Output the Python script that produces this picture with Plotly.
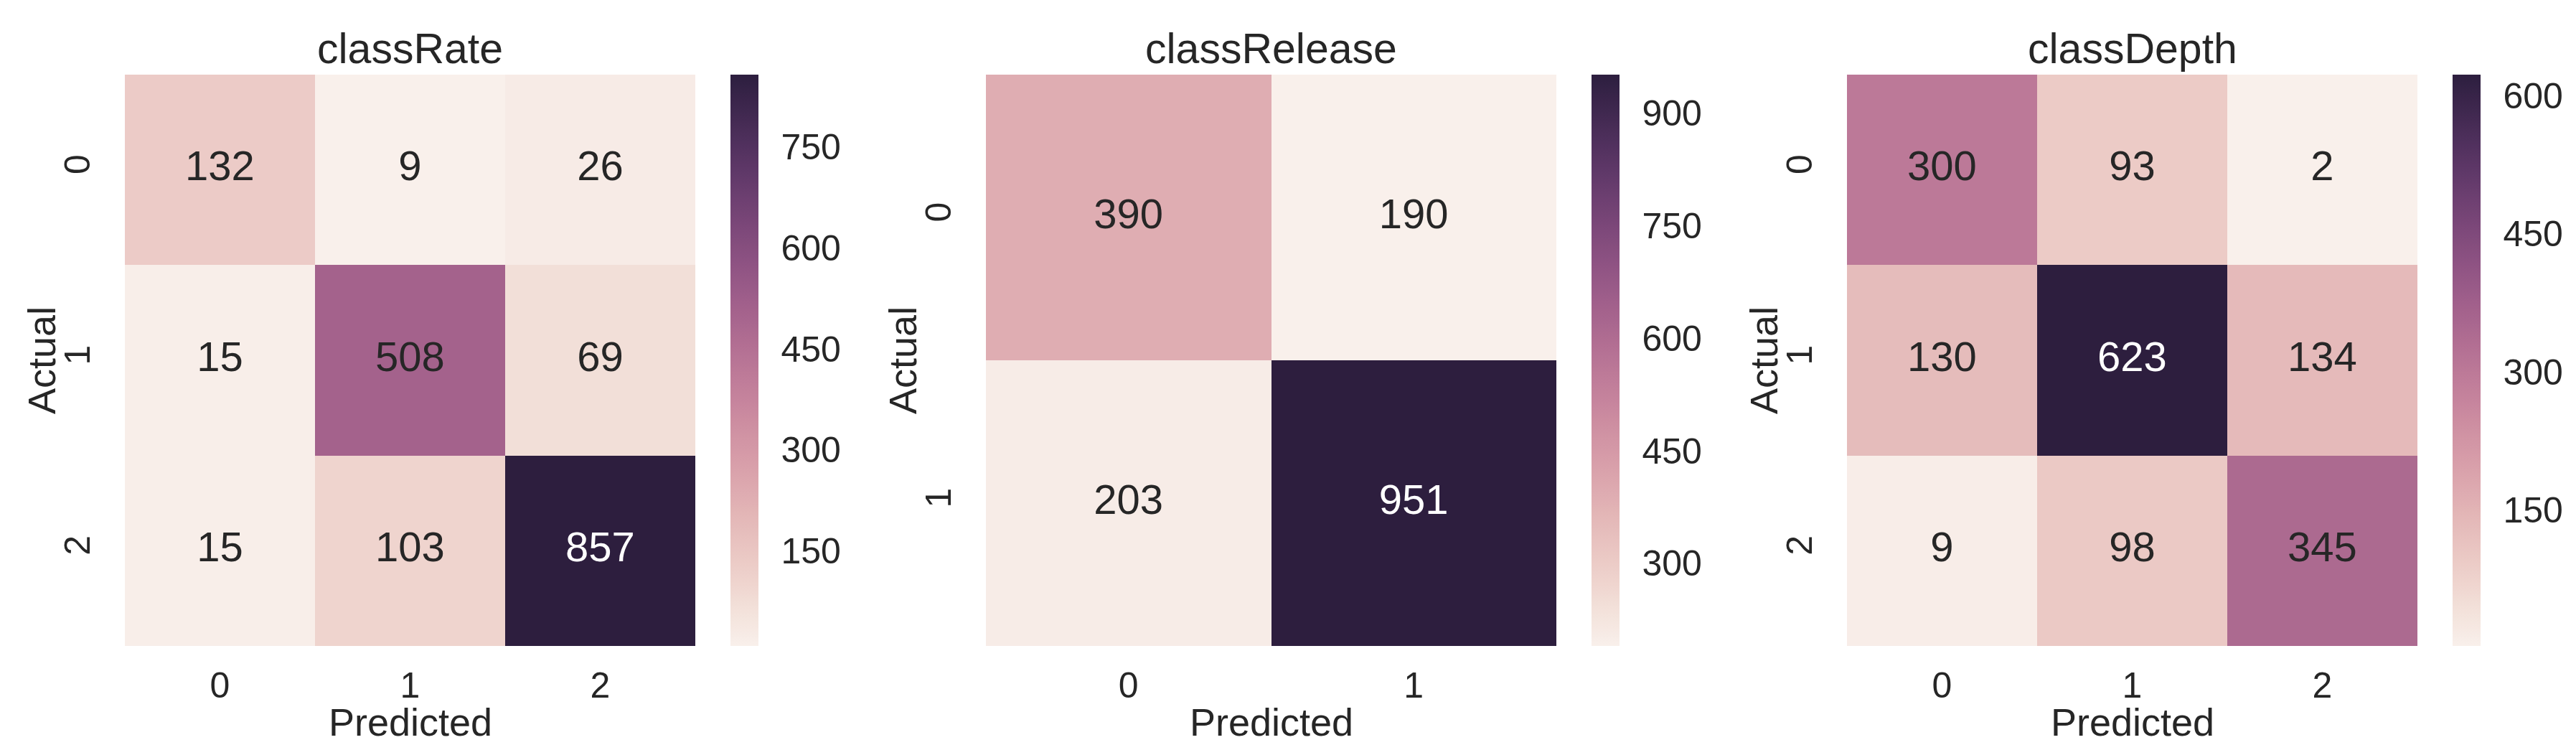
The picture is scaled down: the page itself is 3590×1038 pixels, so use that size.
import colorsys

import numpy as np
import plotly.graph_objects as go

# Confusion matrices (rows = actual, cols = predicted).
titles = ["classRate", "classRelease", "classDepth"]
rate_labels = ["0", "1", "2"]
release_labels = ["0", "1"]
depth_labels = ["0", "1", "2"]

rate_cm = [[132, 9, 26], [15, 508, 69], [15, 103, 857]]
release_cm = [[390, 190], [203, 951]]
depth_cm = [[300, 93, 2], [130, 623, 134], [9, 98, 345]]

rate_cbar_ticks = [150, 300, 450, 600, 750]
release_cbar_ticks = [300, 450, 600, 750, 900]
depth_cbar_ticks = [150, 300, 450, 600]

W, H = 3590, 1038
FONT = "Liberation Sans, Arial, sans-serif"
INK = "#262626"

# pixel layout of each panel
LEFT0, STEP, HM_W = 166, 1200, 795
HM_TOP, HM_BOT = 96, 892
CB_OFF, CB_W = 844, 39


def cubehelix(t, start=0.0, rot=0.4, gamma=1.0, hue=0.8, light=0.95, dark=0.15):
    """seaborn cubehelix_palette(light=.95) sampled at t in [0, 1]."""
    x = light + (dark - light) * np.asarray(t, float)
    xg = x ** gamma
    a = hue * xg * (1 - xg) / 2
    phi = 2 * np.pi * (start / 3 + rot * x)
    c, s = np.cos(phi), np.sin(phi)
    r = xg + a * (-0.14861 * c + 1.78277 * s)
    g = xg + a * (-0.29227 * c - 0.90649 * s)
    b = xg + a * (1.97294 * c)
    return np.clip(np.stack([r, g, b], -1), 0, 1)


stops = np.linspace(0, 1, 64)
COLORSCALE = [
    [float(t), "rgb(%d,%d,%d)" % tuple(np.round(cubehelix(t) * 255).astype(int))]
    for t in stops
]


def text_color(v, vmin, vmax):
    # old seaborn rule: dark text on light cells, white on dark ones
    rgb = cubehelix((v - vmin) / (vmax - vmin))
    _, l, _ = colorsys.rgb_to_hls(*rgb)
    return INK if l > 0.5 else "white"


def px_x(p):
    return p / W


def px_y(p):
    return 1 - p / H


panels = [
    (titles[0], rate_cm, rate_labels, rate_cbar_ticks),
    (titles[1], release_cm, release_labels, release_cbar_ticks),
    (titles[2], depth_cm, depth_labels, depth_cbar_ticks),
]

fig = go.Figure()
annotations = []
for i, (title, cm, labels, cbar_ticks) in enumerate(panels):
    z = np.array(cm)
    n = len(labels)
    idx = list(range(n))
    vmin, vmax = int(z.min()), int(z.max())
    x0 = LEFT0 + i * STEP
    sfx = "" if i == 0 else str(i + 1)

    fig.add_trace(go.Heatmap(
        z=z, x=idx, y=idx, xaxis="x" + sfx, yaxis="y" + sfx,
        zmin=vmin, zmax=vmax, colorscale=COLORSCALE, xgap=0, ygap=0,
        hoverinfo="skip",
        colorbar=dict(
            x=px_x(x0 + CB_OFF), xanchor="left", xpad=0,
            y=px_y((HM_TOP + HM_BOT) / 2), yanchor="middle", ypad=0,
            len=HM_BOT - HM_TOP, lenmode="pixels",
            thickness=CB_W, thicknessmode="pixels", outlinewidth=0,
            tickvals=cbar_ticks, ticks="outside", ticklen=22,
            tickcolor="rgba(0,0,0,0)",
            tickfont=dict(size=50, color=INK, family=FONT),
        ),
    ))
    cols, rows = np.meshgrid(idx, idx)
    fig.add_trace(go.Scatter(
        x=cols.ravel(), y=rows.ravel(), xaxis="x" + sfx, yaxis="y" + sfx,
        mode="text", text=[str(v) for v in z.ravel()],
        textfont=dict(size=58, family=FONT,
                      color=[text_color(v, vmin, vmax) for v in z.ravel()]),
        hoverinfo="skip", showlegend=False,
    ))

    axis_common = dict(showgrid=False, zeroline=False, showline=False,
                       ticks="outside", tickcolor="rgba(0,0,0,0)",
                       tickfont=dict(size=50, color=INK, family=FONT),
                       tickvals=idx, ticktext=labels)
    fig.layout["xaxis" + sfx] = dict(
        axis_common, domain=[px_x(x0), px_x(x0 + HM_W)],
        range=[-0.5, n - 0.5], anchor="y" + sfx, ticklen=11)
    fig.layout["yaxis" + sfx] = dict(
        axis_common, domain=[px_y(HM_BOT), px_y(HM_TOP)],
        range=[n - 0.5, -0.5], anchor="x" + sfx, ticklen=28, tickangle=-90)

    cx = px_x(x0 + HM_W / 2)
    annotations += [
        dict(text=title, x=cx, y=px_y(60), xref="paper", yref="paper",
             showarrow=False, xanchor="center", yanchor="middle",
             font=dict(size=59, color=INK, family=FONT)),
        dict(text="Predicted", x=cx, y=px_y(998), xref="paper", yref="paper",
             showarrow=False, xanchor="center", yanchor="middle",
             font=dict(size=54, color=INK, family=FONT)),
        dict(text="Actual", x=px_x(x0 - 116), y=px_y((HM_TOP + HM_BOT) / 2),
             xref="paper", yref="paper", showarrow=False, textangle=-90,
             xanchor="center", yanchor="middle",
             font=dict(size=54, color=INK, family=FONT)),
    ]

fig.update_layout(
    width=W, height=H, margin=dict(l=0, r=0, t=0, b=0),
    paper_bgcolor="white", plot_bgcolor="white",
    showlegend=False, annotations=annotations,
    font=dict(family=FONT, color=INK),
)
fig.write_html("out.html", config={"displayModeBar": False})
